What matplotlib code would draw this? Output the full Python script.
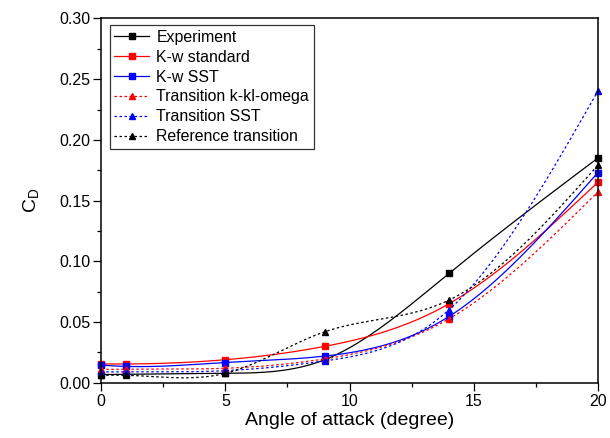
import numpy as np
import matplotlib
matplotlib.use("Agg")
import matplotlib.pyplot as plt

plt.rcParams['font.family'] = ['Liberation Sans', 'DejaVu Sans']
plt.rcParams['mathtext.fontset'] = 'custom'
plt.rcParams['mathtext.rm'] = 'Liberation Sans'

# angle of attack (degree)
aoa = [0, 1, 5, 9, 14, 20]

# drag coefficient
cd_experiment = [0.0068, 0.0070, 0.0078, 0.0190, 0.0900, 0.1850]
cd_kw_standard = [0.0155, 0.0155, 0.0190, 0.0300, 0.0650, 0.1650]
cd_kw_sst = [0.0145, 0.0135, 0.0167, 0.0220, 0.0545, 0.1730]
cd_trans_kkl = [0.0110, 0.0112, 0.0120, 0.0197, 0.0526, 0.1570]
cd_trans_sst = [0.0090, 0.0090, 0.0100, 0.0180, 0.0600, 0.2400]
cd_reference = [0.0062, 0.0062, 0.0078, 0.0420, 0.0680, 0.1790]

labels = ['Experiment', 'K-w standard', 'K-w SST',
          'Transition k-kl-omega', 'Transition SST', 'Reference transition']


def natural_spline(x, y, n=300):
    # natural cubic spline, used only to draw the smooth connecting line
    x = np.asarray(x, float)
    y = np.asarray(y, float)
    k = len(x)
    h = np.diff(x)
    A = np.zeros((k, k))
    b = np.zeros(k)
    A[0, 0] = A[-1, -1] = 1
    for i in range(1, k - 1):
        A[i, i - 1] = h[i - 1]
        A[i, i] = 2 * (h[i - 1] + h[i])
        A[i, i + 1] = h[i]
        b[i] = 6 * ((y[i + 1] - y[i]) / h[i] - (y[i] - y[i - 1]) / h[i - 1])
    M = np.linalg.solve(A, b)
    xs = np.linspace(x[0], x[-1], n)
    idx = np.clip(np.searchsorted(x, xs) - 1, 0, k - 2)
    x0, x1 = x[idx], x[idx + 1]
    hh = x1 - x0
    t0, t1 = x1 - xs, xs - x0
    ys = (M[idx] * t0 ** 3 + M[idx + 1] * t1 ** 3) / (6 * hh) \
        + (y[idx] / hh - M[idx] * hh / 6) * t0 \
        + (y[idx + 1] / hh - M[idx + 1] * hh / 6) * t1
    return xs, ys


series = [cd_experiment, cd_kw_standard, cd_kw_sst,
          cd_trans_kkl, cd_trans_sst, cd_reference]
colors = ['black', 'red', 'blue', 'red', 'blue', 'black']
markers = ['s', 's', 's', '^', '^', '^']
dotted = (0, (2, 2))
styles = ['-', '-', '-', dotted, dotted, dotted]

fig = plt.figure(figsize=(6.1, 4.38), dpi=100)
ax = fig.add_axes([0.166, 0.126, 0.814, 0.832])

handles = []
for vals, c, m, ls, lab in zip(series, colors, markers, styles, labels):
    xs, ys = natural_spline(aoa, vals)
    ax.plot(xs, ys, color=c, linestyle=ls, lw=0.9)
    ax.plot(aoa, vals, linestyle='none', marker=m, color=c,
            markersize=4.5 if m == 's' else 5, clip_on=False)
    h, = ax.plot([], [], color=c, linestyle=ls, lw=0.9, marker=m,
                 markersize=4.5 if m == 's' else 5, label=lab)
    handles.append(h)

ax.set_xlim(0, 20)
ax.set_ylim(0, 0.30)
ax.set_xticks([0, 5, 10, 15, 20])
ax.set_xticks([2.5, 7.5, 12.5, 17.5], minor=True)
ax.set_yticks(np.arange(0, 0.31, 0.05))
ax.set_yticks(np.arange(0.025, 0.3, 0.05), minor=True)
ax.yaxis.set_major_formatter(matplotlib.ticker.FormatStrFormatter('%.2f'))
ax.tick_params(which='both', direction='out', labelsize=11.5, width=0.9)
ax.tick_params(which='major', length=5.5, pad=2.5)
ax.tick_params(which='minor', length=3)
for s in ax.spines.values():
    s.set_linewidth(1.1)

ax.set_xlabel('Angle of attack (degree)', fontsize=14, labelpad=2)
ax.set_ylabel(r'C$_\mathregular{D}$', fontsize=14, labelpad=12)

leg = ax.legend(handles=handles, loc='upper left', bbox_to_anchor=(0.017, 0.982),
                fontsize=11.4, frameon=True, fancybox=False, edgecolor='black',
                handlelength=2.2, handletextpad=0.45, labelspacing=0.31,
                borderpad=0.3, borderaxespad=0, numpoints=1)
leg.get_frame().set_linewidth(0.9)

fig.savefig('out.png', dpi=100)
